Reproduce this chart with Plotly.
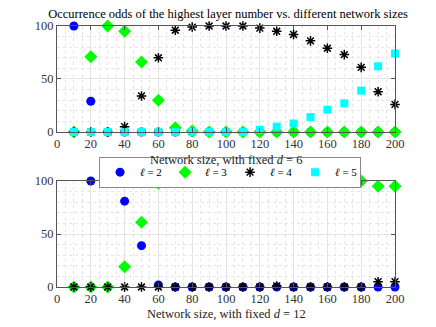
import plotly.graph_objects as go
from plotly.subplots import make_subplots

sizes = [10, 20, 30, 40, 50, 60, 70, 80, 90, 100, 110, 120, 130, 140, 150, 160, 170, 180, 190, 200]

# d = 6
d6_l2 = [100, 29, 0, 0, 0, 0, 0, 0, 0, 0, 0, 0, 0, 0, 0, 0, 0, 0, 0, 0]
d6_l3 = [0, 71, 100, 95, 66, 30, 4, 1, 0, 0, 0, 0, 0, 0, 0, 0, 0, 0, 0, 0]
d6_l4 = [0, 0, 0, 5, 34, 70, 96, 99, 100, 100, 100, 98, 95, 92, 86, 79, 73, 61, 38, 26]
d6_l5 = [0, 0, 0, 0, 0, 0, 0, 0, 0, 0, 0, 2, 5, 8, 14, 21, 27, 39, 62, 74]

# d = 12
d12_l2 = [0, 100, 100, 81, 39, 2, 0, 0, 0, 0, 0, 0, 0, 0, 0, 0, 0, 0, 0, 0]
d12_l3 = [0, 0, 0, 19, 61, 98, 100, 100, 100, 100, 100, 100, 99, 100, 100, 100, 100, 100, 95, 95]
d12_l4 = [0, 0, 0, 0, 0, 0, 0, 0, 0, 0, 0, 0, 1, 0, 0, 0, 0, 0, 5, 5]
d12_l5 = [None] * 20

labels = ["<i>ℓ</i> = 2", "<i>ℓ</i> = 3", "<i>ℓ</i> = 4", "<i>ℓ</i> = 5"]
styles = [
    dict(symbol="circle", color="#0000FF", size=9),
    dict(symbol="diamond", color="#00FF00", size=10),
    dict(symbol="asterisk-open", color="black", size=8, line=dict(color="black", width=1.5)),
    dict(symbol="square", color="#00FFFF", size=8),
]

fig = make_subplots(rows=2, cols=1)

for row, series in [(1, [d6_l2, d6_l3, d6_l4, d6_l5]), (2, [d12_l2, d12_l3, d12_l4, d12_l5])]:
    for i, ys in enumerate(series):
        fig.add_trace(go.Scatter(x=sizes, y=ys, mode="markers", name=labels[i],
                                 marker=styles[i], cliponaxis=False,
                                 showlegend=(row == 1)), row=row, col=1)

serif = "Liberation Serif"
axis_common = dict(showline=True, linecolor="#555555", linewidth=1, mirror="ticks",
                   ticks="inside", ticklen=4, tickcolor="#555555", automargin=False,
                   gridcolor="#e3e3e3", gridwidth=1, zeroline=False,
                   tickfont=dict(family=serif, size=12.5, color="#333333"))
minor_x = dict(dtick=5, showgrid=True, gridcolor="#e6e6e6", griddash="dot", ticks="")
minor_y = dict(dtick=10, showgrid=True, gridcolor="#e6e6e6", griddash="dot", ticks="")

fig.update_xaxes(range=[0, 200], dtick=20, minor=minor_x, **axis_common)
fig.update_yaxes(range=[0, 100], dtick=50, minor=minor_y, **axis_common)

# x-axis titles as annotations so they sit where the reference has them
fig.add_annotation(text="Network size, with fixed <i>d</i> = 6", xref="paper", yref="paper",
                   x=0.5, y=0.487, xanchor="center", yanchor="middle", showarrow=False,
                   font=dict(family=serif, size=12.5, color="#222222"))
fig.add_annotation(text="Network size, with fixed <i>d</i> = 12", xref="paper", yref="paper",
                   x=0.5, y=-0.105, xanchor="center", yanchor="middle", showarrow=False,
                   font=dict(family=serif, size=12.5, color="#222222"))

# the page body adds an 8px offset, so the figure is 8px smaller than the window
fig.update_layout(
    width=428, height=319,
    margin=dict(l=49, r=41, t=18, b=40),
    plot_bgcolor="white", paper_bgcolor="white",
    font=dict(family=serif, size=13, color="#222222"),
    title=dict(text="Occurrence odds of the highest layer number vs. different network sizes",
               xref="paper", x=0.506, xanchor="center", yref="container", y=1, yanchor="top",
               pad=dict(t=1, b=0),
               font=dict(family=serif, size=12.5, color="black")),
    yaxis=dict(domain=[0.594, 1]),
    yaxis2=dict(domain=[0, 0.406]),
    legend=dict(orientation="h", x=0.512, xanchor="center", y=0.44, yanchor="middle",
                bgcolor="white", bordercolor="#888888", borderwidth=1,
                font=dict(family=serif, size=11, color="black"),
                entrywidth=20, itemwidth=30, tracegroupgap=0),
    showlegend=True,
)

fig.write_html("out.html")
